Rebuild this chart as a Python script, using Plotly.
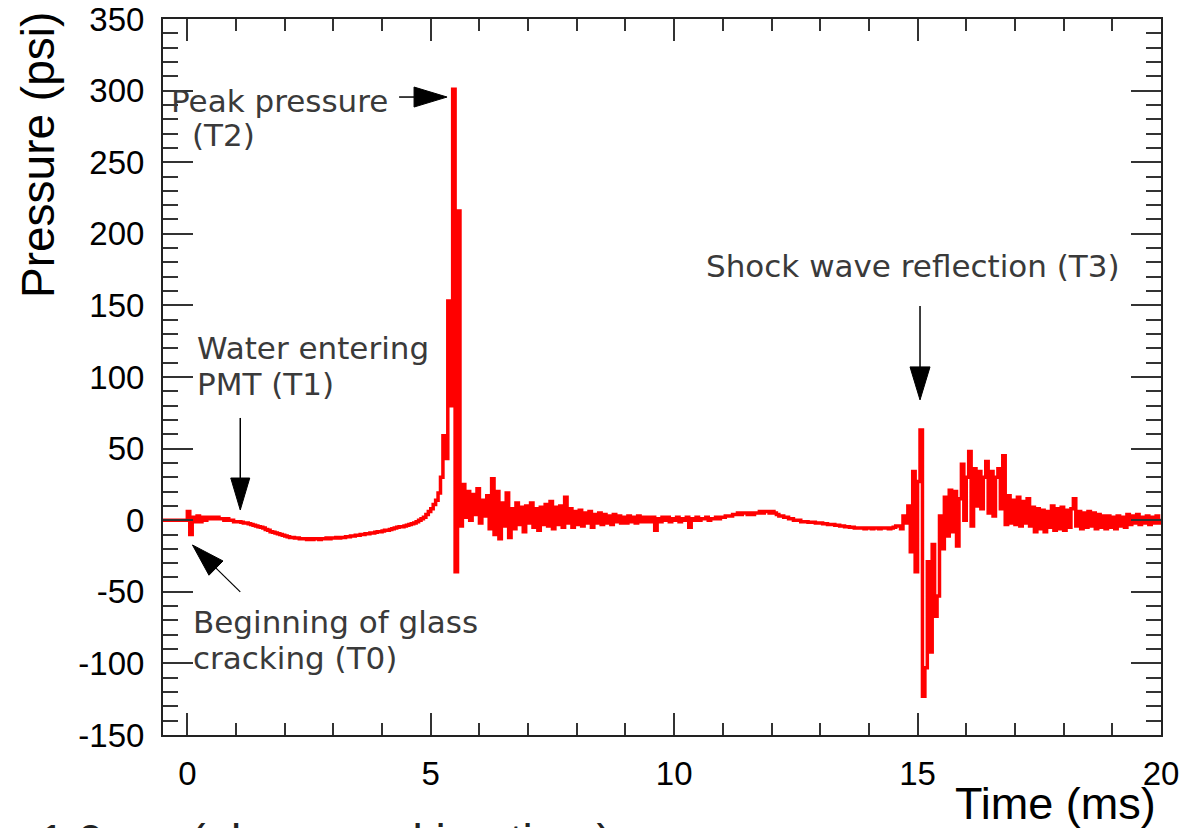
import numpy as np
import plotly.graph_objects as go

# ---------------- data (pressure in psi, sampled every 0.05 ms) ----------------
DT = 0.05
pre_event = [0, 0, 0, 0, 0, 0, 0, 0, 0, 0]                                  # t = -0.50 .. -0.05
cracking = [6, -10, 2, -1, 3, -1, 2, 0, 2, 1, 2, 1, 2, 1, 1, 0, 1, 0, 0, -1]  # t = 0.00 .. 0.95
decline = [-1, -1, -1.5, -2, -2, -2.5, -3, -3.5, -4, -4.5,
           -5, -5.5, -6.5, -7, -8, -8.5, -9, -9.5, -10, -10.5,
           -11, -11.5, -12, -12, -12.5, -12.5, -13, -13, -13, -13.5]          # t = 1.00 .. 2.45
trough = [-13, -13.5, -13, -13, -13.5, -13, -13, -12.5, -13, -12.5,
          -12.5, -12, -12.5, -12, -12, -11.5, -11.5, -11, -11, -10.5,
          -10.5, -10, -10, -9.5, -9.5, -9, -9, -8.5, -8, -8,
          -7.5, -7, -7, -6.5, -6, -5.5, -5, -4.5, -4.5, -4]                   # t = 2.50 .. 4.45
rise = [-3.5, -3, -2.5, -2, -1, 0, 1, 2, 4, 6, 8, 11, 14, 19]                 # t = 4.50 .. 5.15
spike = [30, 59, 43, 153, 80, 301, -36, 216]                                 # t = 5.20 .. 5.55
ringdown_1 = [-4, 25, 2, 20, 0, 18, 4, 22, -2, 14, 3, 17, -6, 29, -10, 20, -13, 12, -4, 19]   # 5.60 .. 6.55
ringdown_2 = [-12, 8, -6, 12, -3, 9, -8, 10, -2, 12, -5, 8, -7, 9, -3, 11, -4, 13, -6, 9]     # 6.60 .. 7.55
ringdown_3 = [-3, 10, -5, 16, -2, 8, -5, 6, -3, 7, -4, 5, -2, 6, -5, 4, -2, 5, -3, 4]         # 7.60 .. 8.55
ringdown_4 = [-2, 3, -3, 4, -1, 3, -2, 2, -2, 3, -1, 2, -2, 3, -1, 2, -1, 2, -1, 2]           # 8.60 .. 9.55
quiet = [-7, 1, -1, 2, 0, 2, -1, 1, 0, 2, -1, 1, 0, 2, -5, 1, 0, 2, 0, 1,
         1, 2, 0, 1, 1, 2, 1, 2, 2, 3, 3, 3, 4, 4, 5, 4, 5, 5, 4, 5,
         4, 5, 5, 6, 5, 6, 6, 5, 6, 5, 4, 3, 3, 2, 2, 1, 1, 0, 0, 0,
         -1, -1, -1, -1.5, -1.5, -1.5, -2, -2, -2, -2.5, -2.5, -3, -3, -3, -3.5, -3.5, -4, -4, -4.5, -4.5,
         -5, -5, -5.5, -5.5, -5.5, -5.5, -6, -5.5, -5.5, -6, -5.5, -5.5, -6, -5.5, -5.5, -5.5, -6, -5.5, -5, -4]  # 9.60 .. 14.55
reflection = [-4, -6, 3, -2, 10, -22, 34, -36, 27, 63,
              -123, -103, -29, -92, -17, -67, -53, 3, -20, 16,
              -11, 21, -8, 20, -18, 15, 39, 0, 30, 48,
              -4, 36, 10, 34, 8, 30, 41, 5, 34, 3,
              30, 36, 8, 45, -3, 17, -2, 14, -3, 16]                          # t = 14.60 .. 17.05
tail = [-4, 13, -2, 15, -4, 9, -8, 8, -6, 7, -8, 6, -5, 10, -7, 8, -6, 9,
        -7, 7, -5, 8, 15, -4, 6, -6, 5, -5, 6, -4, 5, -6, 4, -5, 3, -6, 3, -5,
        2, -6, 3, -4, 2, -5, 4, -3, 3, -2, 4, -3, 2, -2, 3, -3, 2, -2, 3, -2,
        1]                                                                    # t = 17.10 .. 20.00

segments = [(-0.50, pre_event), (0.00, cracking), (1.00, decline), (2.50, trough),
            (4.50, rise), (5.20, spike), (5.60, ringdown_1), (6.60, ringdown_2),
            (7.60, ringdown_3), (8.60, ringdown_4), (9.60, quiet), (14.60, reflection),
            (17.10, tail)]

time_ms, pressure_psi = [], []
for start, vals in segments:
    time_ms.extend(np.round(start + DT * np.arange(len(vals)), 3).tolist())
    pressure_psi.extend(vals)

x_ticks = [0, 5, 10, 15, 20]
y_ticks = [-150, -100, -50, 0, 50, 100, 150, 200, 250, 300, 350]
X_RANGE = [-0.5, 20]
Y_RANGE = [-150, 350]

# ---------------- layout geometry ----------------
W, H = 1181, 828
ML, MR, MT, MB = 163, 20, 19, 93
plot_w = W - ML - MR
plot_h = H - MT - MB
sx = plot_w / (X_RANGE[1] - X_RANGE[0])   # px per ms
sy = plot_h / (Y_RANGE[1] - Y_RANGE[0])   # px per psi

fig = go.Figure()
fig.add_trace(go.Scatter(x=time_ms, y=pressure_psi, mode="lines",
                         line=dict(color="#ff0000", width=3.5, shape="hv"),
                         showlegend=False, hoverinfo="skip"))

# ---------------- arrows (shaft + filled head) ----------------
arrows = [
    # (tail (t, p), tip (t, p), head length px, head half-width px, shaft width)
    ((4.35, 295.5), (5.335, 295.5), 33, 10, 1.5),
    ((1.087, 71.4), (1.087, 7.1), 32, 9.5, 1.5),
    ((15.05, 149.6), (15.05, 84.0), 33, 10, 1.5),
    ((1.087, -50.1), (0.105, -17.3), 33, 10, 1.2),
]
shapes = []
for (tx, ty), (hx, hy), hl, hw, lw in arrows:
    dxp = (hx - tx) * sx
    dyp = (hy - ty) * sy
    L = (dxp ** 2 + dyp ** 2) ** 0.5
    ux, uy = dxp / L, dyp / L
    bx, by = -ux * hl, -uy * hl            # base centre offset from tip, px
    px_, py_ = -uy * hw, ux * hw           # perpendicular, px
    base = (hx + bx / sx, hy + by / sy)
    v1 = (hx + (bx + px_) / sx, hy + (by + py_) / sy)
    v2 = (hx + (bx - px_) / sx, hy + (by - py_) / sy)
    shapes.append(dict(type="line", xref="x", yref="y", x0=tx, y0=ty, x1=base[0], y1=base[1],
                       line=dict(color="black", width=lw)))
    shapes.append(dict(type="path", xref="x", yref="y",
                       path=f"M{hx},{hy} L{v1[0]},{v1[1]} L{v2[0]},{v2[1]} Z",
                       fillcolor="black", line=dict(color="black", width=1)))

# ---------------- text labels ----------------
label_font = dict(family="DejaVu Sans", size=31, color="#3a3a3a")
labels = [
    ("Peak pressure", -0.37, 293),
    ("(T2)", 0.06, 269),
    ("Water entering", 0.16, 120.3),
    ("PMT (T1)", 0.16, 95.1),
    ("Shock wave reflection (T3)", 10.62, 177.5),
    ("Beginning of glass", 0.08, -71.1),
    ("cracking (T0)", 0.08, -96.2),
]
annotations = [dict(text=t, x=x, y=y, xref="x", yref="y", xanchor="left", yanchor="middle",
                    showarrow=False, font=label_font) for t, x, y in labels]

axis_font = dict(family="Liberation Sans", size=46, color="black")
annotations.append(dict(text="Pressure (psi)", textangle=-90, xref="paper", yref="paper",
                        x=(38 - ML) / plot_w, y=1 + (MT - 10) / plot_h,
                        xanchor="center", yanchor="top", showarrow=False, font=axis_font))
annotations.append(dict(text="Time (ms)", xref="paper", yref="paper",
                        x=(1158 - ML) / plot_w, y=-(803 - (H - MB)) / plot_h,
                        xanchor="right", yanchor="middle", showarrow=False,
                        font=dict(family="Liberation Sans", size=45, color="black")))
annotations.append(dict(text="-1.0 ms (glass cracking time)", xref="paper", yref="paper",
                        x=(22 - ML) / plot_w, y=-(813 - (H - MB)) / plot_h,
                        xanchor="left", yanchor="top", showarrow=False,
                        font=dict(family="Liberation Sans", size=46, color="#222")))

tick_font = dict(family="Liberation Sans", size=33, color="black")
common = dict(showline=True, linecolor="#222", linewidth=2, mirror="allticks",
              showgrid=False, zeroline=False, ticks="inside", tickwidth=1.6,
              tickcolor="#333", tickfont=tick_font, fixedrange=True, automargin=False)

fig.update_layout(
    width=W, height=H,
    margin=dict(l=ML, r=MR, t=MT, b=MB, autoexpand=False),
    paper_bgcolor="white", plot_bgcolor="white",
    showlegend=False,
    xaxis=dict(range=X_RANGE, tickmode="array", tickvals=x_ticks,
               ticktext=[str(v) for v in x_ticks], ticklen=22, ticklabelstandoff=8,
               minor=dict(tickmode="linear", tick0=0, dtick=1, ticks="inside",
                          ticklen=12, tickwidth=1.6, tickcolor="#333"),
               **common),
    yaxis=dict(range=Y_RANGE, tickmode="array", tickvals=y_ticks,
               ticktext=[str(v) for v in y_ticks], ticklen=30, ticklabelstandoff=10,
               minor=dict(tickmode="linear", tick0=0, dtick=10, ticks="inside",
                          ticklen=15, tickwidth=1.6, tickcolor="#333"),
               **common),
    shapes=shapes,
    annotations=annotations,
)

fig.write_html("out.html")
